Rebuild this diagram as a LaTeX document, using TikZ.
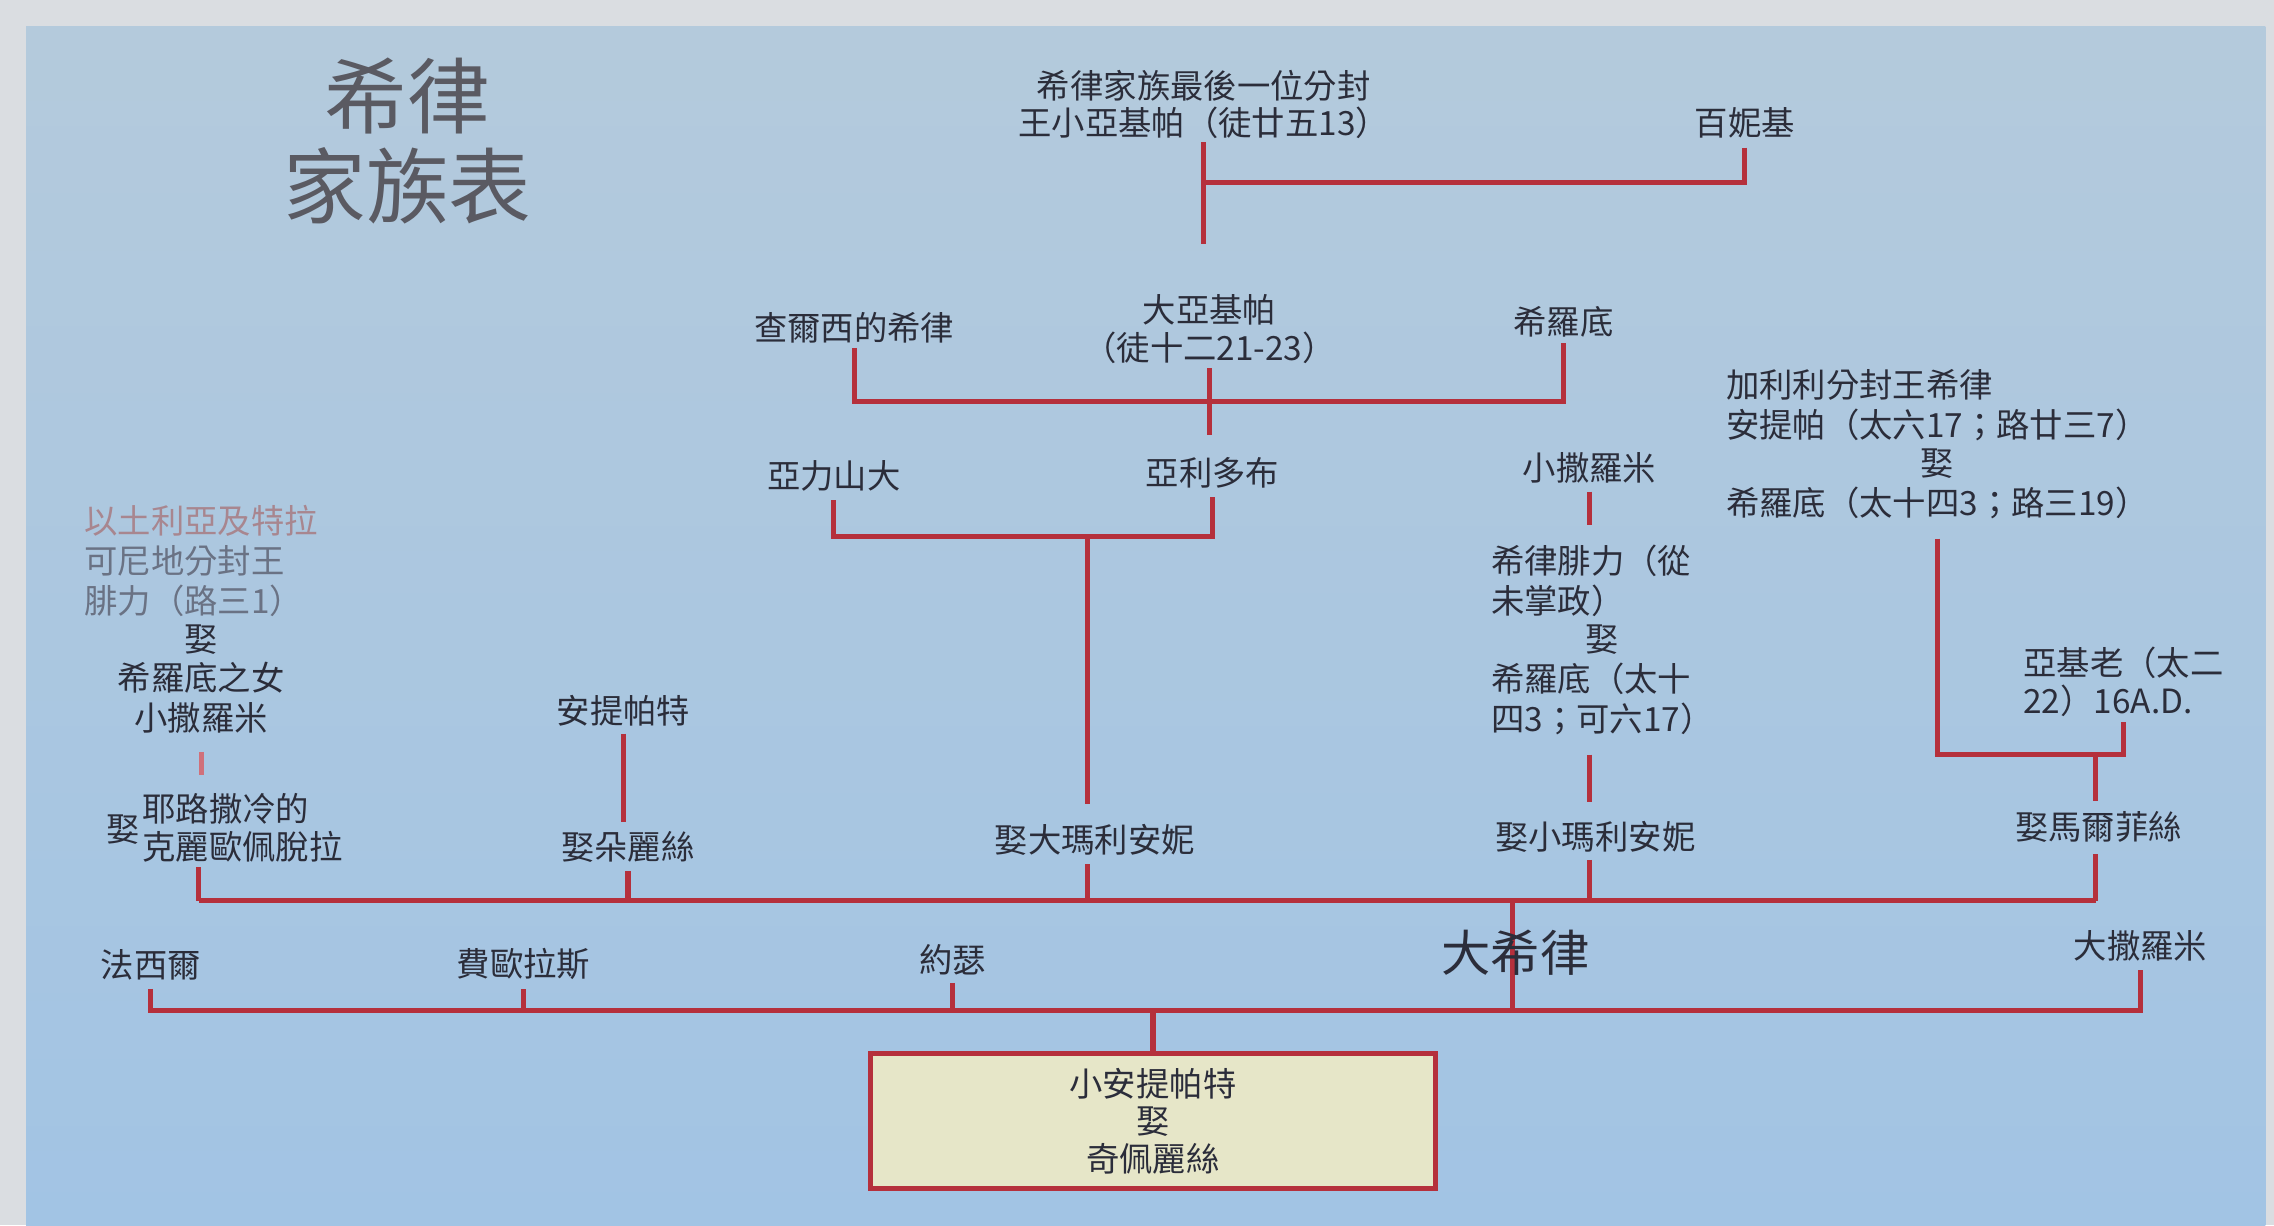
\documentclass[tikz,border=0pt]{standalone}
\usepackage{fontspec}
\setmainfont{Noto Sans CJK TC}
\definecolor{bgtop}{HTML}{B4CADC}
\definecolor{bgbot}{HTML}{A2C4E4}
\definecolor{framec}{HTML}{DADDE1}
\definecolor{linec}{HTML}{B5303C}
\definecolor{linelight}{HTML}{D0707A}
\definecolor{txtc}{HTML}{2B2D3A}
\definecolor{titlec}{HTML}{5A5A62}
\definecolor{boxfill}{HTML}{E6E6C8}
\definecolor{fadeA}{HTML}{A8868F}
\definecolor{fadeB}{HTML}{6A7284}
\begin{document}
\begin{tikzpicture}[x=1pt,y=-1pt,
  txt/.style={font=\fontsize{23}{26}\selectfont, text=txtc, inner sep=0pt, align=center},
  bigtxt/.style={font=\fontsize{34}{36}\selectfont, text=txtc, inner sep=0pt},
  titletxt/.style={font=\fontsize{57}{60}\selectfont, text=titlec, inner sep=0pt},
  rl/.style={draw=linec, line width=3.5pt},
  famebox/.style={draw=linec, line width=3.5pt, fill=boxfill, minimum width=389pt, minimum height=93pt, inner sep=0pt, align=center, font=\fontsize{23}{26}\selectfont, text=txtc}]
\useasboundingbox (0,0) rectangle (1568,845);
\fill[framec] (0,0) rectangle (1568,845);
\shade[top color=bgtop, bottom color=bgbot] (18,18) rectangle (1562,845);

% title
\node[titletxt] (title1) at (281,66) {希律};
\node[titletxt] (title2) at (281,128) {家族表};

% top generation
\node[txt] (agr2) at (830,72) {希律家族最後一位分封\\王小亞基帕（徒廿五13）};
\node[txt] (ber) at (1203,85) {百妮基};
\coordinate (jtop) at (830,126);
\coordinate (agr2end) at (830,168);
\draw[rl, shorten <=2pt] (agr2.south) -- (agr2end);
\draw[rl, shorten <=6pt] (ber.south) |- (jtop);

% second generation
\node[txt] (chal) at (589,226) {查爾西的希律};
\node[txt] (agr1) at (834,227) {大亞基帕\\（徒十二21-23）};
\node[txt] (hdias) at (1078,222) {希羅底};
\coordinate (j2) at (834,277);
\coordinate (agr1end) at (834,300);
\draw[rl, shorten <=3pt] (chal.south) |- (j2);
\draw[rl, shorten <=4pt] (hdias.south) |- (j2);
\draw[rl, shorten <=3pt] (agr1.south) -- (agr1end);

% third generation
\node[txt] (alex) at (575,328) {亞力山大};
\node[txt] (aris) at (836,326) {亞利多布};
\node[txt] (sal2) at (1096,323) {小撒羅米};
\coordinate (j3) at (750,370);
\draw[rl, shorten <=6pt, shorten >=6pt] (alex.south) |- (j3) -| (aris.south);

% Philip (Herod Philip I)
\node[txt, anchor=west] (phil) at (1028,444) {\begin{tabular}{@{}l@{}}希律腓力（從\\未掌政）\\\multicolumn{1}{@{}c@{}}{娶}\\希羅底（太十\\四3；可六17）\end{tabular}};
\draw[rl, shorten <=5pt, shorten >=14pt] (sal2.south) -- (sal2.south |- phil.north);

% Antipas
\node[txt, anchor=west] (antipas) at (1190,309) {\begin{tabular}{@{}l@{}}加利利分封王希律\\安提帕（太六17；路廿三7）\\\multicolumn{1}{@{}c@{}}{娶}\\希羅底（太十四3；路三19）\end{tabular}};
\node[txt, anchor=west, align=left] (archel) at (1395,470) {亞基老（太二\\22）16A.D.};
\coordinate (ja) at (1445,520);

% Philip the tetrarch
\node[txt, anchor=west] (philt) at (58,430) {\begin{tabular}{@{}l@{}}\textcolor{fadeA}{以土利亞及特拉}\\\textcolor{fadeB}{可尼地分封王}\\\textcolor{fadeB}{腓力（路三1）}\\\multicolumn{1}{@{}c@{}}{娶}\\\multicolumn{1}{@{}c@{}}{希羅底之女}\\\multicolumn{1}{@{}c@{}}{小撒羅米}\end{tabular}};

% wives row
\node[txt] (cleom) at (85,572) {娶};
\node[txt, anchor=west, align=left] (cleo) at (98,571) {耶路撒冷的\\克麗歐佩脫拉};
\node[txt] (antip) at (430,490) {安提帕特};
\node[txt] (doris) at (433,584) {娶朵麗絲};
\node[txt] (mar1) at (755,579) {娶大瑪利安妮};
\node[txt] (mar2) at (1100,577) {娶小瑪利安妮};
\node[txt] (malth) at (1447,570) {娶馬爾菲絲};

\draw[draw=linelight, line width=3.5pt, shorten <=7pt, shorten >=13pt] (philt.south) -- (philt.south |- cleo.north);
\draw[rl, shorten <=8pt] (antipas.south) |- (ja);
\draw[rl, shorten <=4pt] (archel.south) |- (ja);
\draw[rl, shorten >=7pt] (ja) -- (ja |- malth.north);
\draw[rl, shorten >=14pt] (j3) -- (j3 |- mar1.north);
\draw[rl, shorten <=8pt, shorten >=13pt] (phil.south -| sal2) -- (mar2.north -| sal2);
\draw[rl, shorten <=5pt, shorten >=6pt] (antip.south) -- (antip.south |- doris.north);

% main line of Herod's wives
\coordinate (jl) at (137,621);
\coordinate (jr) at (1445,621);
\coordinate (jm) at (1043,621);
\draw[rl] (jl) -- (jr);
\draw[rl, shorten <=3pt] (cleo.south -| jl) -- (jl);
\draw[rl, shorten <=6pt] (doris.south) -- (doris.south |- jl);
\draw[rl, shorten <=6pt] (mar1.south -| j3) -- (j3 |- jl);
\draw[rl, shorten <=5pt] (mar2.south -| sal2) -- (sal2 |- jl);
\draw[rl, shorten <=8pt] (malth.south -| jr) -- (jr);

% bottom generation
\node[txt] (phas) at (104,665) {法西爾};
\node[txt] (pher) at (361,665) {費歐拉斯};
\node[txt] (jos) at (657,662) {約瑟};
\node[txt] (sal1) at (1476,652) {大撒羅米};
\coordinate (jb) at (795,697);
\coordinate (hb) at (1043,697);
\draw[rl] (jm) -- (hb);
\node[bigtxt] (herod) at (1045,657) {大希律};
\draw[rl, shorten <=6pt, shorten >=6pt] (phas.south) |- (jb) -| (sal1.south);
\draw[rl, shorten <=6pt] (pher.south) -- (pher.south |- jb);
\draw[rl, shorten <=5pt] (jos.south) -- (jos.south |- jb);

% parents
\node[famebox] (parents) at (795,773) {小安提帕特\\娶\\奇佩麗絲};
\draw[rl] (jb) -- (parents.north);
\end{tikzpicture}
\end{document}
